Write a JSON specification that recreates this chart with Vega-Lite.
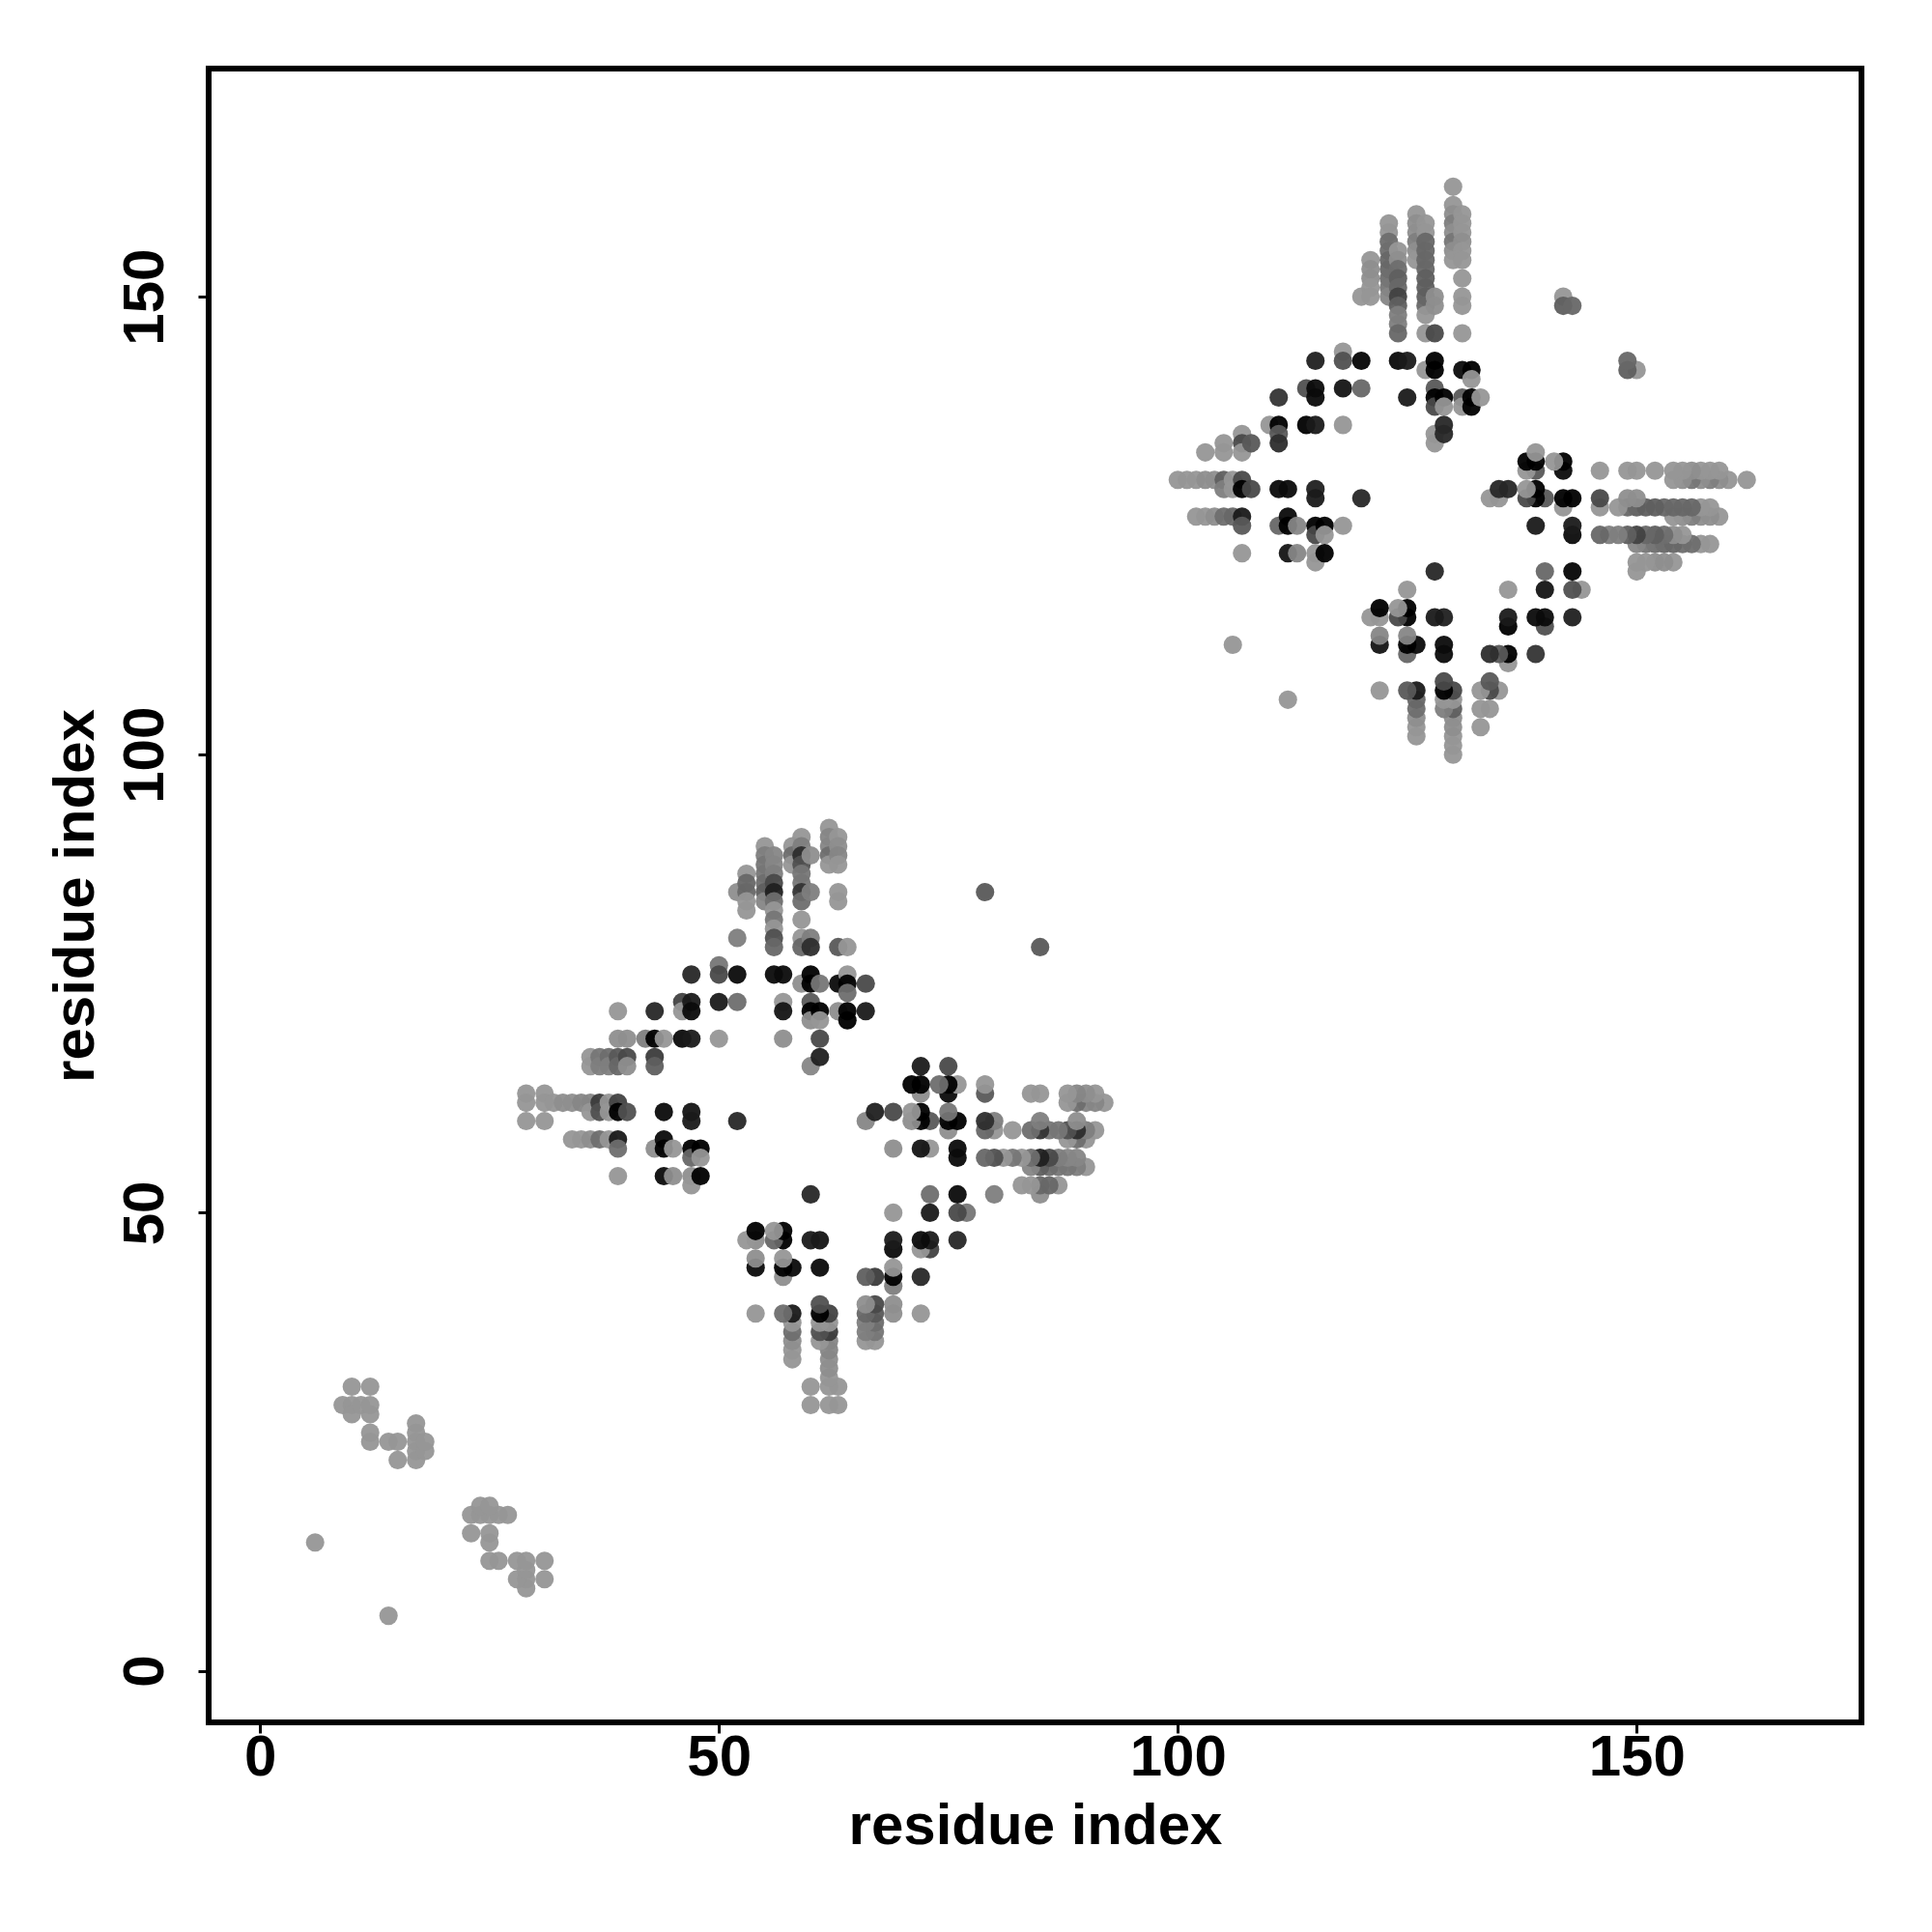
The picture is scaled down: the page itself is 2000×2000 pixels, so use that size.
{"$schema":"https://vega.github.io/schema/vega-lite/v6.json","autosize":{"type":"none"},"padding":{"left":216,"top":71,"right":73,"bottom":217},"width":1711,"height":1712,"background":"white","config":{"view":{"stroke":"black","strokeWidth":6},"font":"Liberation Sans"},
"data":{"values":[
{"x":6,"y":14,"s":0},{"x":9,"y":29,"s":0},{"x":10,"y":29,"s":0},{"x":10,"y":28,"s":0},{"x":10,"y":31,"s":0},{"x":11,"y":29,"s":0},{"x":12,"y":25,"s":0},{"x":12,"y":26,"s":0},{"x":12,"y":28,"s":0},{"x":12,"y":29,"s":0},{"x":12,"y":31,"s":0},{"x":14,"y":25,"s":0},{"x":15,"y":25,"s":0},{"x":15,"y":23,"s":0},{"x":17,"y":23,"s":0},{"x":17,"y":24,"s":0},{"x":17,"y":25,"s":0},{"x":17,"y":26,"s":0},{"x":17,"y":27,"s":0},{"x":18,"y":24,"s":0},{"x":18,"y":25,"s":0},
{"x":14,"y":6,"s":0},{"y":9,"x":29,"s":0},{"y":10,"x":29,"s":0},{"y":10,"x":28,"s":0},{"y":10,"x":31,"s":0},{"y":11,"x":29,"s":0},{"y":12,"x":25,"s":0},{"y":12,"x":26,"s":0},{"y":12,"x":28,"s":0},{"y":12,"x":29,"s":0},{"y":12,"x":31,"s":0},{"y":14,"x":25,"s":0},{"y":15,"x":25,"s":0},{"y":15,"x":23,"s":0},{"y":17,"x":23,"s":0},{"y":17,"x":24,"s":0},{"y":17,"x":25,"s":0},{"y":17,"x":26,"s":0},{"y":17,"x":27,"s":0},{"y":18,"x":24,"s":0},{"y":18,"x":25,"s":0},
{"x":29,"y":63,"s":0},{"x":29,"y":62,"s":0},{"x":29,"y":60,"s":0},{"x":31,"y":63,"s":0},{"x":31,"y":62,"s":0},{"x":31,"y":60,"s":0},{"x":32,"y":62,"s":0},{"x":33,"y":62,"s":0.05},{"x":34,"y":62,"s":0.05},{"x":34,"y":58,"s":0},{"x":35,"y":62,"s":0.1},{"x":35,"y":58,"s":0},{"x":36,"y":62,"s":0.1},{"x":36,"y":61,"s":0},{"x":36,"y":58,"s":0.05},{"x":36,"y":67,"s":0},{"x":36,"y":66,"s":0},{"x":37,"y":62,"s":0.6},{"x":37,"y":61,"s":0.45},{"x":37,"y":58,"s":0.25},{"x":37,"y":67,"s":0.2},{"x":37,"y":66,"s":0.15},{"x":38,"y":62,"s":0},{"x":38,"y":61,"s":0},{"x":38,"y":58,"s":0},{"x":38,"y":67,"s":0.25},{"x":38,"y":66,"s":0.15},{"x":39,"y":72,"s":0},{"x":39,"y":69,"s":0.05},{"x":39,"y":67,"s":0.4},{"x":39,"y":66,"s":0.3},{"x":39,"y":62,"s":0.55},{"x":39,"y":61,"s":1},{"x":39,"y":58,"s":0.85},{"x":39,"y":57,"s":0.25},{"x":39,"y":54,"s":0},{"x":40,"y":69,"s":0.05},{"x":40,"y":67,"s":0.5},{"x":40,"y":66,"s":0.05},{"x":40,"y":61,"s":0.45},{"x":42,"y":69,"s":0.15},{"x":43,"y":72,"s":0.75},{"x":43,"y":69,"s":1},{"x":43,"y":67,"s":0.6},{"x":43,"y":66,"s":0.35},{"x":43,"y":57,"s":0.05},{"x":44,"y":69,"s":0},{"x":44,"y":61,"s":0.95},{"x":44,"y":58,"s":0.95},{"x":44,"y":57,"s":1},{"x":44,"y":54,"s":0.95},{"x":45,"y":57,"s":0},{"x":45,"y":54,"s":0.05},{"x":46,"y":73,"s":0.55},{"x":46,"y":72,"s":0},{"x":46,"y":69,"s":0.95},{"x":47,"y":76,"s":0.75},{"x":47,"y":73,"s":0.85},{"x":47,"y":72,"s":0.95},{"x":47,"y":69,"s":0.85},{"x":47,"y":61,"s":0.9},{"x":47,"y":60,"s":0.85},{"x":47,"y":57,"s":1},{"x":47,"y":56,"s":0.3},{"x":47,"y":54,"s":0.05},{"x":47,"y":53,"s":0},{"x":48,"y":57,"s":1},{"x":48,"y":56,"s":0},{"x":48,"y":54,"s":1},{"x":50,"y":77,"s":0.2},{"x":50,"y":76,"s":0.5},{"x":50,"y":73,"s":0.85},{"x":50,"y":69,"s":0},{"x":52,"y":85,"s":0.05},{"x":52,"y":80,"s":0.15},{"x":52,"y":76,"s":0.95},{"x":52,"y":73,"s":0.25},{"x":52,"y":60,"s":0.75},{"x":53,"y":87,"s":0},{"x":53,"y":86,"s":0.3},{"x":53,"y":85,"s":0.3},{"x":53,"y":84,"s":0},{"x":53,"y":83,"s":0},{"x":55,"y":90,"s":0},{"x":55,"y":89,"s":0.15},{"x":55,"y":88,"s":0.2},{"x":55,"y":87,"s":0.2},{"x":55,"y":86,"s":0.25},{"x":55,"y":85,"s":0.35},{"x":55,"y":84,"s":0.1},{"x":56,"y":89,"s":0.1},{"x":56,"y":88,"s":0.1},{"x":56,"y":87,"s":0.15},{"x":56,"y":86,"s":0.5},{"x":56,"y":85,"s":0.8},{"x":56,"y":84,"s":0.25},{"x":56,"y":83,"s":0},{"x":56,"y":82,"s":0.2},{"x":56,"y":81,"s":0},{"x":56,"y":80,"s":0.45},{"x":56,"y":79,"s":0.3},{"x":56,"y":76,"s":0.95},{"x":57,"y":76,"s":0.95},{"x":57,"y":73,"s":0},{"x":57,"y":72,"s":0.9},{"x":57,"y":69,"s":0.05},{"x":58,"y":90,"s":0},{"x":58,"y":89,"s":0.25},{"x":58,"y":88,"s":0},{"x":59,"y":91,"s":0},{"x":59,"y":90,"s":0.15},{"x":59,"y":89,"s":0.7},{"x":59,"y":88,"s":0.45},{"x":59,"y":87,"s":0.2},{"x":59,"y":86,"s":0.2},{"x":59,"y":85,"s":0.65},{"x":59,"y":84,"s":0.25},{"x":59,"y":82,"s":0},{"x":59,"y":80,"s":0},{"x":59,"y":79,"s":0.3},{"x":59,"y":75,"s":0.05},{"x":60,"y":89,"s":0.05},{"x":60,"y":85,"s":0.15},{"x":60,"y":80,"s":0.15},{"x":60,"y":79,"s":0.7},{"x":60,"y":76,"s":1},{"x":60,"y":75,"s":1},{"x":60,"y":73,"s":0.4},{"x":60,"y":72,"s":1},{"x":60,"y":71,"s":0.05},{"x":60,"y":66,"s":0.1},{"x":61,"y":75,"s":0.2},{"x":61,"y":72,"s":1},{"x":61,"y":71,"s":0},{"x":61,"y":69,"s":0.5},{"x":61,"y":67,"s":0.8},{"x":62,"y":92,"s":0},{"x":62,"y":91,"s":0.1},{"x":62,"y":90,"s":0.1},{"x":62,"y":89,"s":0.25},{"x":62,"y":88,"s":0},{"x":63,"y":91,"s":0},{"x":63,"y":90,"s":0.05},{"x":63,"y":89,"s":0.1},{"x":63,"y":88,"s":0},{"x":63,"y":85,"s":0},{"x":63,"y":84,"s":0},{"x":63,"y":79,"s":0.4},{"x":63,"y":75,"s":0.95},{"x":63,"y":72,"s":0.05},{"x":64,"y":79,"s":0},{"x":64,"y":76,"s":0},{"x":64,"y":75,"s":1},{"x":64,"y":74,"s":0.25},{"x":64,"y":72,"s":1},{"x":64,"y":71,"s":1},{"x":66,"y":75,"s":0.5},{"x":66,"y":72,"s":0.85},{"x":79,"y":85,"s":0.4},
{"y":29,"x":63,"s":0},{"y":29,"x":62,"s":0},{"y":29,"x":60,"s":0},{"y":31,"x":63,"s":0},{"y":31,"x":62,"s":0},{"y":31,"x":60,"s":0},{"y":32,"x":62,"s":0},{"y":33,"x":62,"s":0.05},{"y":34,"x":62,"s":0.05},{"y":34,"x":58,"s":0},{"y":35,"x":62,"s":0.1},{"y":35,"x":58,"s":0},{"y":36,"x":62,"s":0.1},{"y":36,"x":61,"s":0},{"y":36,"x":58,"s":0.05},{"y":36,"x":67,"s":0},{"y":36,"x":66,"s":0},{"y":37,"x":62,"s":0.6},{"y":37,"x":61,"s":0.45},{"y":37,"x":58,"s":0.25},{"y":37,"x":67,"s":0.2},{"y":37,"x":66,"s":0.15},{"y":38,"x":62,"s":0},{"y":38,"x":61,"s":0},{"y":38,"x":58,"s":0},{"y":38,"x":67,"s":0.25},{"y":38,"x":66,"s":0.15},{"y":39,"x":72,"s":0},{"y":39,"x":69,"s":0.05},{"y":39,"x":67,"s":0.4},{"y":39,"x":66,"s":0.3},{"y":39,"x":62,"s":0.55},{"y":39,"x":61,"s":1},{"y":39,"x":58,"s":0.85},{"y":39,"x":57,"s":0.25},{"y":39,"x":54,"s":0},{"y":40,"x":69,"s":0.05},{"y":40,"x":67,"s":0.5},{"y":40,"x":66,"s":0.05},{"y":40,"x":61,"s":0.45},{"y":42,"x":69,"s":0.15},{"y":43,"x":72,"s":0.75},{"y":43,"x":69,"s":1},{"y":43,"x":67,"s":0.6},{"y":43,"x":66,"s":0.35},{"y":43,"x":57,"s":0.05},{"y":44,"x":69,"s":0},{"y":44,"x":61,"s":0.95},{"y":44,"x":58,"s":0.95},{"y":44,"x":57,"s":1},{"y":44,"x":54,"s":0.95},{"y":45,"x":57,"s":0},{"y":45,"x":54,"s":0.05},{"y":46,"x":73,"s":0.55},{"y":46,"x":72,"s":0},{"y":46,"x":69,"s":0.95},{"y":47,"x":76,"s":0.75},{"y":47,"x":73,"s":0.85},{"y":47,"x":72,"s":0.95},{"y":47,"x":69,"s":0.85},{"y":47,"x":61,"s":0.9},{"y":47,"x":60,"s":0.85},{"y":47,"x":57,"s":1},{"y":47,"x":56,"s":0.3},{"y":47,"x":54,"s":0.05},{"y":47,"x":53,"s":0},{"y":48,"x":57,"s":1},{"y":48,"x":56,"s":0},{"y":48,"x":54,"s":1},{"y":50,"x":77,"s":0.2},{"y":50,"x":76,"s":0.5},{"y":50,"x":73,"s":0.85},{"y":50,"x":69,"s":0},{"y":52,"x":85,"s":0.05},{"y":52,"x":80,"s":0.15},{"y":52,"x":76,"s":0.95},{"y":52,"x":73,"s":0.25},{"y":52,"x":60,"s":0.75},{"y":53,"x":87,"s":0},{"y":53,"x":86,"s":0.3},{"y":53,"x":85,"s":0.3},{"y":53,"x":84,"s":0},{"y":53,"x":83,"s":0},{"y":55,"x":90,"s":0},{"y":55,"x":89,"s":0.15},{"y":55,"x":88,"s":0.2},{"y":55,"x":87,"s":0.2},{"y":55,"x":86,"s":0.25},{"y":55,"x":85,"s":0.35},{"y":55,"x":84,"s":0.1},{"y":56,"x":89,"s":0.1},{"y":56,"x":88,"s":0.1},{"y":56,"x":87,"s":0.15},{"y":56,"x":86,"s":0.5},{"y":56,"x":85,"s":0.8},{"y":56,"x":84,"s":0.25},{"y":56,"x":83,"s":0},{"y":56,"x":82,"s":0.2},{"y":56,"x":81,"s":0},{"y":56,"x":80,"s":0.45},{"y":56,"x":79,"s":0.3},{"y":56,"x":76,"s":0.95},{"y":57,"x":76,"s":0.95},{"y":57,"x":73,"s":0},{"y":57,"x":72,"s":0.9},{"y":57,"x":69,"s":0.05},{"y":58,"x":90,"s":0},{"y":58,"x":89,"s":0.25},{"y":58,"x":88,"s":0},{"y":59,"x":91,"s":0},{"y":59,"x":90,"s":0.15},{"y":59,"x":89,"s":0.7},{"y":59,"x":88,"s":0.45},{"y":59,"x":87,"s":0.2},{"y":59,"x":86,"s":0.2},{"y":59,"x":85,"s":0.65},{"y":59,"x":84,"s":0.25},{"y":59,"x":82,"s":0},{"y":59,"x":80,"s":0},{"y":59,"x":79,"s":0.3},{"y":59,"x":75,"s":0.05},{"y":60,"x":89,"s":0.05},{"y":60,"x":85,"s":0.15},{"y":60,"x":80,"s":0.15},{"y":60,"x":79,"s":0.7},{"y":60,"x":76,"s":1},{"y":60,"x":75,"s":1},{"y":60,"x":73,"s":0.4},{"y":60,"x":72,"s":1},{"y":60,"x":71,"s":0.05},{"y":60,"x":66,"s":0.1},{"y":61,"x":75,"s":0.2},{"y":61,"x":72,"s":1},{"y":61,"x":71,"s":0},{"y":61,"x":69,"s":0.5},{"y":61,"x":67,"s":0.8},{"y":62,"x":92,"s":0},{"y":62,"x":91,"s":0.1},{"y":62,"x":90,"s":0.1},{"y":62,"x":89,"s":0.25},{"y":62,"x":88,"s":0},{"y":63,"x":91,"s":0},{"y":63,"x":90,"s":0.05},{"y":63,"x":89,"s":0.1},{"y":63,"x":88,"s":0},{"y":63,"x":85,"s":0},{"y":63,"x":84,"s":0},{"y":63,"x":79,"s":0.4},{"y":63,"x":75,"s":0.95},{"y":63,"x":72,"s":0.05},{"y":64,"x":79,"s":0},{"y":64,"x":76,"s":0},{"y":64,"x":75,"s":1},{"y":64,"x":74,"s":0.25},{"y":64,"x":72,"s":1},{"y":64,"x":71,"s":1},{"y":66,"x":75,"s":0.5},{"y":66,"x":72,"s":0.85},{"y":79,"x":85,"s":0.4},
{"x":100,"y":130,"s":0},{"x":101,"y":130,"s":0},{"x":102,"y":130,"s":0},{"x":102,"y":126,"s":0},{"x":103,"y":133,"s":0},{"x":103,"y":130,"s":0.05},{"x":103,"y":126,"s":0},{"x":104,"y":130,"s":0.05},{"x":104,"y":126,"s":0.05},{"x":105,"y":134,"s":0},{"x":105,"y":133,"s":0},{"x":105,"y":130,"s":0.35},{"x":105,"y":129,"s":0.15},{"x":105,"y":126,"s":0.25},{"x":106,"y":130,"s":0},{"x":106,"y":129,"s":0},{"x":106,"y":126,"s":0.3},{"x":106,"y":112,"s":0},{"x":107,"y":135,"s":0},{"x":107,"y":134,"s":0.5},{"x":107,"y":133,"s":0},{"x":107,"y":130,"s":0.5},{"x":107,"y":129,"s":1},{"x":107,"y":126,"s":0.85},{"x":107,"y":125,"s":0.4},{"x":107,"y":122,"s":0},{"x":108,"y":134,"s":0.4},{"x":108,"y":129,"s":0.5},{"x":110,"y":136,"s":0},{"x":111,"y":139,"s":0.65},{"x":111,"y":136,"s":1},{"x":111,"y":135,"s":0.4},{"x":111,"y":134,"s":0.7},{"x":111,"y":129,"s":0.95},{"x":111,"y":125,"s":0.3},{"x":112,"y":129,"s":0.95},{"x":112,"y":126,"s":0.95},{"x":112,"y":125,"s":1},{"x":112,"y":122,"s":0.9},{"x":113,"y":125,"s":0.1},{"x":113,"y":122,"s":0.1},{"x":114,"y":140,"s":0.45},{"x":114,"y":136,"s":1},{"x":115,"y":143,"s":0.8},{"x":115,"y":140,"s":0.95},{"x":115,"y":139,"s":0.95},{"x":115,"y":136,"s":0.85},{"x":115,"y":129,"s":0.8},{"x":115,"y":128,"s":0.85},{"x":115,"y":125,"s":1},{"x":115,"y":124,"s":0.5},{"x":115,"y":122,"s":0},{"x":115,"y":121,"s":0},{"x":116,"y":125,"s":1},{"x":116,"y":124,"s":0},{"x":116,"y":122,"s":1},{"x":118,"y":144,"s":0},{"x":118,"y":143,"s":0.45},{"x":118,"y":140,"s":0.9},{"x":118,"y":136,"s":0},{"x":118,"y":125,"s":0},{"x":120,"y":150,"s":0},{"x":120,"y":143,"s":0.98},{"x":120,"y":140,"s":0.3},{"x":120,"y":128,"s":0.75},{"x":121,"y":154,"s":0},{"x":121,"y":153,"s":0.05},{"x":121,"y":152,"s":0.05},{"x":121,"y":151,"s":0},{"x":121,"y":150,"s":0},{"x":123,"y":158,"s":0},{"x":123,"y":157,"s":0},{"x":123,"y":156,"s":0.25},{"x":123,"y":155,"s":0.25},{"x":123,"y":154,"s":0.3},{"x":123,"y":153,"s":0.3},{"x":123,"y":152,"s":0.25},{"x":123,"y":151,"s":0.2},{"x":123,"y":150,"s":0.1},{"x":124,"y":155,"s":0},{"x":124,"y":154,"s":0.05},{"x":124,"y":153,"s":0.25},{"x":124,"y":152,"s":0.35},{"x":124,"y":151,"s":0.3},{"x":124,"y":150,"s":0.55},{"x":124,"y":149,"s":0.35},{"x":124,"y":148,"s":0.15},{"x":124,"y":147,"s":0.15},{"x":124,"y":146,"s":0.3},{"x":124,"y":143,"s":0.95},{"x":125,"y":143,"s":0.85},{"x":125,"y":139,"s":0.85},{"x":126,"y":159,"s":0},{"x":126,"y":158,"s":0.05},{"x":126,"y":157,"s":0.05},{"x":126,"y":156,"s":0.15},{"x":126,"y":155,"s":0.05},{"x":126,"y":154,"s":0},{"x":127,"y":158,"s":0},{"x":127,"y":157,"s":0},{"x":127,"y":156,"s":0.3},{"x":127,"y":155,"s":0.3},{"x":127,"y":154,"s":0.3},{"x":127,"y":153,"s":0.3},{"x":127,"y":152,"s":0.35},{"x":127,"y":151,"s":0.35},{"x":127,"y":150,"s":0.35},{"x":127,"y":149,"s":0.3},{"x":127,"y":148,"s":0},{"x":127,"y":146,"s":0},{"x":127,"y":142,"s":0},{"x":128,"y":150,"s":0.05},{"x":128,"y":149,"s":0.05},{"x":128,"y":146,"s":0.5},{"x":128,"y":143,"s":1},{"x":128,"y":142,"s":1},{"x":128,"y":140,"s":0.4},{"x":128,"y":139,"s":1},{"x":128,"y":138,"s":0.5},{"x":128,"y":135,"s":0},{"x":128,"y":134,"s":0},{"x":129,"y":139,"s":1},{"x":129,"y":138,"s":0},{"x":129,"y":136,"s":0.75},{"x":129,"y":135,"s":0.75},{"x":130,"y":162,"s":0},{"x":130,"y":160,"s":0},{"x":130,"y":159,"s":0.05},{"x":130,"y":158,"s":0.15},{"x":130,"y":157,"s":0.05},{"x":130,"y":156,"s":0.2},{"x":130,"y":155,"s":0.05},{"x":130,"y":154,"s":0},{"x":131,"y":159,"s":0},{"x":131,"y":158,"s":0},{"x":131,"y":157,"s":0},{"x":131,"y":156,"s":0.05},{"x":131,"y":155,"s":0},{"x":131,"y":154,"s":0},{"x":131,"y":152,"s":0},{"x":131,"y":150,"s":0},{"x":131,"y":149,"s":0},{"x":131,"y":146,"s":0},{"x":131,"y":142,"s":0.95},{"x":131,"y":139,"s":0.4},{"x":131,"y":138,"s":0},{"x":132,"y":142,"s":1},{"x":132,"y":141,"s":0},{"x":132,"y":139,"s":1},{"x":132,"y":138,"s":1},{"x":133,"y":139,"s":0},{"x":142,"y":150,"s":0},{"x":142,"y":149,"s":0.35},{"x":143,"y":149,"s":0.3},
{"y":100,"x":130,"s":0},{"y":101,"x":130,"s":0},{"y":102,"x":130,"s":0},{"y":102,"x":126,"s":0},{"y":103,"x":133,"s":0},{"y":103,"x":130,"s":0.05},{"y":103,"x":126,"s":0},{"y":104,"x":130,"s":0.05},{"y":104,"x":126,"s":0.05},{"y":105,"x":134,"s":0},{"y":105,"x":133,"s":0},{"y":105,"x":130,"s":0.35},{"y":105,"x":129,"s":0.15},{"y":105,"x":126,"s":0.25},{"y":106,"x":130,"s":0},{"y":106,"x":129,"s":0},{"y":106,"x":126,"s":0.3},{"y":106,"x":112,"s":0},{"y":107,"x":135,"s":0},{"y":107,"x":134,"s":0.5},{"y":107,"x":133,"s":0},{"y":107,"x":130,"s":0.5},{"y":107,"x":129,"s":1},{"y":107,"x":126,"s":0.85},{"y":107,"x":125,"s":0.4},{"y":107,"x":122,"s":0},{"y":108,"x":134,"s":0.4},{"y":108,"x":129,"s":0.5},{"y":110,"x":136,"s":0},{"y":111,"x":139,"s":0.65},{"y":111,"x":136,"s":1},{"y":111,"x":135,"s":0.4},{"y":111,"x":134,"s":0.7},{"y":111,"x":129,"s":0.95},{"y":111,"x":125,"s":0.3},{"y":112,"x":129,"s":0.95},{"y":112,"x":126,"s":0.95},{"y":112,"x":125,"s":1},{"y":112,"x":122,"s":0.9},{"y":113,"x":125,"s":0.1},{"y":113,"x":122,"s":0.1},{"y":114,"x":140,"s":0.45},{"y":114,"x":136,"s":1},{"y":115,"x":143,"s":0.8},{"y":115,"x":140,"s":0.95},{"y":115,"x":139,"s":0.95},{"y":115,"x":136,"s":0.85},{"y":115,"x":129,"s":0.8},{"y":115,"x":128,"s":0.85},{"y":115,"x":125,"s":1},{"y":115,"x":124,"s":0.5},{"y":115,"x":122,"s":0},{"y":115,"x":121,"s":0},{"y":116,"x":125,"s":1},{"y":116,"x":124,"s":0},{"y":116,"x":122,"s":1},{"y":118,"x":144,"s":0},{"y":118,"x":143,"s":0.45},{"y":118,"x":140,"s":0.9},{"y":118,"x":136,"s":0},{"y":118,"x":125,"s":0},{"y":120,"x":150,"s":0},{"y":120,"x":143,"s":0.98},{"y":120,"x":140,"s":0.3},{"y":120,"x":128,"s":0.75},{"y":121,"x":154,"s":0},{"y":121,"x":153,"s":0.05},{"y":121,"x":152,"s":0.05},{"y":121,"x":151,"s":0},{"y":121,"x":150,"s":0},{"y":123,"x":158,"s":0},{"y":123,"x":157,"s":0},{"y":123,"x":156,"s":0.25},{"y":123,"x":155,"s":0.25},{"y":123,"x":154,"s":0.3},{"y":123,"x":153,"s":0.3},{"y":123,"x":152,"s":0.25},{"y":123,"x":151,"s":0.2},{"y":123,"x":150,"s":0.1},{"y":124,"x":155,"s":0},{"y":124,"x":154,"s":0.05},{"y":124,"x":153,"s":0.25},{"y":124,"x":152,"s":0.35},{"y":124,"x":151,"s":0.3},{"y":124,"x":150,"s":0.55},{"y":124,"x":149,"s":0.35},{"y":124,"x":148,"s":0.15},{"y":124,"x":147,"s":0.15},{"y":124,"x":146,"s":0.3},{"y":124,"x":143,"s":0.95},{"y":125,"x":143,"s":0.85},{"y":125,"x":139,"s":0.85},{"y":126,"x":159,"s":0},{"y":126,"x":158,"s":0.05},{"y":126,"x":157,"s":0.05},{"y":126,"x":156,"s":0.15},{"y":126,"x":155,"s":0.05},{"y":126,"x":154,"s":0},{"y":127,"x":158,"s":0},{"y":127,"x":157,"s":0},{"y":127,"x":156,"s":0.3},{"y":127,"x":155,"s":0.3},{"y":127,"x":154,"s":0.3},{"y":127,"x":153,"s":0.3},{"y":127,"x":152,"s":0.35},{"y":127,"x":151,"s":0.35},{"y":127,"x":150,"s":0.35},{"y":127,"x":149,"s":0.3},{"y":127,"x":148,"s":0},{"y":127,"x":146,"s":0},{"y":127,"x":142,"s":0},{"y":128,"x":150,"s":0.05},{"y":128,"x":149,"s":0.05},{"y":128,"x":146,"s":0.5},{"y":128,"x":143,"s":1},{"y":128,"x":142,"s":1},{"y":128,"x":140,"s":0.4},{"y":128,"x":139,"s":1},{"y":128,"x":138,"s":0.5},{"y":128,"x":135,"s":0},{"y":128,"x":134,"s":0},{"y":129,"x":139,"s":1},{"y":129,"x":138,"s":0},{"y":129,"x":136,"s":0.75},{"y":129,"x":135,"s":0.75},{"y":130,"x":162,"s":0},{"y":130,"x":160,"s":0},{"y":130,"x":159,"s":0.05},{"y":130,"x":158,"s":0.15},{"y":130,"x":157,"s":0.05},{"y":130,"x":156,"s":0.2},{"y":130,"x":155,"s":0.05},{"y":130,"x":154,"s":0},{"y":131,"x":159,"s":0},{"y":131,"x":158,"s":0},{"y":131,"x":157,"s":0},{"y":131,"x":156,"s":0.05},{"y":131,"x":155,"s":0},{"y":131,"x":154,"s":0},{"y":131,"x":152,"s":0},{"y":131,"x":150,"s":0},{"y":131,"x":149,"s":0},{"y":131,"x":146,"s":0},{"y":131,"x":142,"s":0.95},{"y":131,"x":139,"s":0.4},{"y":131,"x":138,"s":0},{"y":132,"x":142,"s":1},{"y":132,"x":141,"s":0},{"y":132,"x":139,"s":1},{"y":132,"x":138,"s":1},{"y":133,"x":139,"s":0},{"y":142,"x":150,"s":0},{"y":142,"x":149,"s":0.35},{"y":143,"x":149,"s":0.3}
]},
"mark":{"type":"point","filled":true,"shape":"circle","size":365,"opacity":0.95,"strokeWidth":0},
"encoding":{
"x":{"field":"x","type":"quantitative","scale":{"domain":[-5.6,174.5],"nice":false,"zero":false},"axis":{"values":[0,50,100,150],"grid":false,"domain":false,"tickColor":"black","tickWidth":3,"tickSize":11,"labelFont":"Liberation Sans","labelFontWeight":"bold","labelFontSize":60,"labelColor":"black","labelPadding":-4,"title":"residue index","titleFont":"Liberation Sans","titleFontWeight":"bold","titleFontSize":60,"titleColor":"black","titlePadding":12}},
"y":{"field":"y","type":"quantitative","scale":{"domain":[-5.64,174.9],"nice":false,"zero":false},"axis":{"values":[0,50,100,150],"grid":false,"domain":false,"tickColor":"black","tickWidth":3,"tickSize":11,"labelFont":"Liberation Sans","labelFontWeight":"bold","labelFontSize":60,"labelColor":"black","labelAngle":-90,"labelAlign":"center","labelBaseline":"bottom","labelPadding":24,"title":"residue index","titleFont":"Liberation Sans","titleFontWeight":"bold","titleFontSize":60,"titleColor":"black","titlePadding":11}},
"color":{"field":"s","type":"quantitative","scale":{"domain":[0,1],"range":["#969696","#000000"]},"legend":null},
"order":[{"field":"x","type":"quantitative"},{"field":"y","type":"quantitative"}]
}}
